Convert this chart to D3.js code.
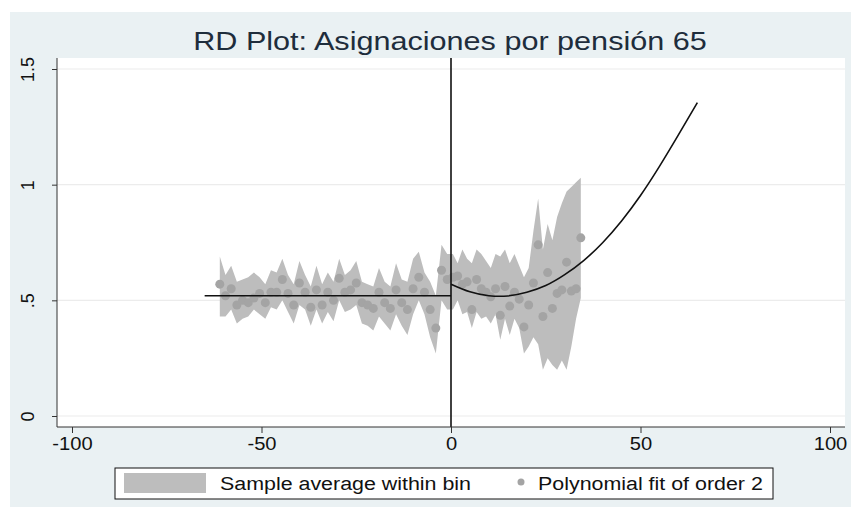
<!DOCTYPE html>
<html>
<head>
<meta charset="utf-8">
<script src="https://cdn.jsdelivr.net/npm/d3@7"></script>
<style>
  body { margin: 0; background: #fff; }
  text { font-family: "Liberation Sans", Arial, sans-serif; }
</style>
</head>
<body>
<div id="chart"></div>
<script>
// bins left of the cutoff
const leftX = [-61, -59.5, -58, -56.5, -55, -53.5, -52, -50.5, -49, -47.5, -46, -44.5, -43, -41.5,
  -40, -38.5, -37, -35.5, -34, -32.5, -31, -29.5, -28, -26.5, -25, -23.5, -22, -20.5, -19,
  -17.5, -16, -14.5, -13, -11.5, -10, -8.5, -7, -5.5, -4, -2.5, -1];
const leftMean = [0.57, 0.52, 0.55, 0.48, 0.50, 0.49, 0.51, 0.53, 0.49, 0.535, 0.535, 0.59, 0.53, 0.48,
  0.575, 0.535, 0.47, 0.545, 0.48, 0.535, 0.50, 0.595, 0.535, 0.545, 0.575, 0.49, 0.48, 0.465, 0.535,
  0.49, 0.465, 0.545, 0.49, 0.46, 0.55, 0.60, 0.535, 0.46, 0.38, 0.63, 0.59];
const leftHi = [0.69, 0.61, 0.65, 0.58, 0.59, 0.60, 0.62, 0.60, 0.57, 0.63, 0.62, 0.68, 0.61, 0.57,
  0.67, 0.61, 0.56, 0.65, 0.57, 0.62, 0.58, 0.68, 0.61, 0.63, 0.67, 0.58, 0.57, 0.56, 0.64,
  0.58, 0.56, 0.66, 0.59, 0.58, 0.68, 0.71, 0.62, 0.58, 0.52, 0.74, 0.70];
const leftLo = [0.43, 0.43, 0.46, 0.40, 0.42, 0.43, 0.46, 0.44, 0.42, 0.47, 0.46, 0.50, 0.45, 0.40,
  0.48, 0.46, 0.39, 0.46, 0.40, 0.45, 0.41, 0.50, 0.45, 0.46, 0.48, 0.40, 0.39, 0.37, 0.43,
  0.40, 0.37, 0.44, 0.39, 0.35, 0.44, 0.50, 0.44, 0.34, 0.27, 0.50, 0.46];

// bins right of the cutoff
const rightX = [0.5, 1.75, 3, 4.25, 5.5, 6.75, 8, 9.25, 10.5, 11.75, 13, 14.25, 15.5, 16.75,
  18, 19.25, 20.5, 21.75, 23, 24.25, 25.5, 26.75, 28, 29.25, 30.5, 31.75, 33, 34.25];
const rightMean = [0.60, 0.605, 0.57, 0.58, 0.46, 0.59, 0.55, 0.535, 0.515, 0.55, 0.435, 0.56, 0.475, 0.535,
  0.505, 0.385, 0.48, 0.575, 0.74, 0.43, 0.62, 0.465, 0.53, 0.545, 0.665, 0.54, 0.55, 0.77];
const rightHi = [0.70, 0.66, 0.72, 0.68, 0.66, 0.72, 0.70, 0.67, 0.64, 0.70, 0.69, 0.72, 0.66, 0.70,
  0.65, 0.60, 0.64, 0.80, 0.94, 0.72, 0.83, 0.76, 0.86, 0.92, 0.97, 0.99, 1.01, 1.03];
const rightLo = [0.46, 0.50, 0.44, 0.45, 0.38, 0.45, 0.42, 0.43, 0.40, 0.44, 0.33, 0.42, 0.35, 0.42,
  0.38, 0.27, 0.30, 0.34, 0.31, 0.20, 0.25, 0.22, 0.20, 0.24, 0.20, 0.30, 0.42, 0.51];

// fitted polynomials
const fitLeftX = [-65, 0];
const fitLeftY = [0.52, 0.52];
const fitRightX = [0, 5, 10, 15, 20, 25, 30, 35, 40, 45, 50, 55, 60, 65];
const fitRightY = [0.57, 0.537, 0.52, 0.519, 0.535, 0.564, 0.611, 0.672, 0.749, 0.843, 0.953, 1.079, 1.215, 1.355];

const xTicks = [-100, -50, 0, 50, 100];
const yTicks = [0, 0.5, 1, 1.5];
const yTickLabels = ['0', '.5', '1', '1.5'];

const width = 851;
const height = 507;
const plot = { left: 57, right: 845, top: 58, bottom: 427 };

const svg = d3.select('#chart').append('svg')
  .attr('width', width)
  .attr('height', height);

svg.append('rect')
  .attr('x', 10).attr('y', 12)
  .attr('width', width - 10).attr('height', height - 12)
  .style('fill', '#eaf1f3');

svg.append('rect')
  .attr('x', plot.left).attr('y', plot.top)
  .attr('width', plot.right - plot.left).attr('height', plot.bottom - plot.top)
  .style('fill', '#ffffff');

const xScale = d3.scaleLinear().domain([-100, 100]).range([72, 830]);
const yScale = d3.scaleLinear().domain([0, 1.5]).range([416, 69]);

// gridlines
svg.append('g')
  .selectAll('line')
  .data(yTicks)
  .join('line')
  .attr('x1', plot.left).attr('x2', plot.right)
  .attr('y1', (d) => yScale(d)).attr('y2', (d) => yScale(d))
  .style('stroke', '#ececec')
  .style('stroke-width', 1.2);

const bins = leftX.map((x, i) => ({ x, m: leftMean[i], lo: leftLo[i], hi: leftHi[i] }))
  .concat(rightX.map((x, i) => ({ x, m: rightMean[i], lo: rightLo[i], hi: rightHi[i] })));

const area = d3.area()
  .x((d) => xScale(d.x))
  .y0((d) => yScale(d.lo))
  .y1((d) => yScale(d.hi));

svg.append('path')
  .datum(bins)
  .attr('d', area)
  .style('fill', '#bdbdbd')
  .style('stroke', 'none');

svg.append('g')
  .selectAll('circle')
  .data(bins)
  .join('circle')
  .attr('cx', (d) => xScale(d.x))
  .attr('cy', (d) => yScale(d.m))
  .attr('r', 4.5)
  .style('fill', '#a4a4a4');

const line = d3.line()
  .x((d) => xScale(d[0]))
  .y((d) => yScale(d[1]));

svg.append('path')
  .datum(fitLeftX.map((x, i) => [x, fitLeftY[i]]))
  .attr('d', line)
  .style('fill', 'none')
  .style('stroke', '#111')
  .style('stroke-width', 1.6);

svg.append('path')
  .datum(fitRightX.map((x, i) => [x, fitRightY[i]]))
  .attr('d', line.curve(d3.curveNatural))
  .style('fill', 'none')
  .style('stroke', '#111')
  .style('stroke-width', 1.6);

// cutoff line
svg.append('line')
  .attr('x1', xScale(0)).attr('x2', xScale(0))
  .attr('y1', plot.top).attr('y2', plot.bottom)
  .style('stroke', '#111')
  .style('stroke-width', 1.6);

// axes
const yAxis = d3.axisLeft(yScale)
  .tickValues(yTicks)
  .tickSize(5)
  .tickSizeOuter(0)
  .tickFormat((d, i) => yTickLabels[i]);

const yG = svg.append('g')
  .attr('transform', `translate(${plot.left},0)`)
  .call(yAxis);
yG.select('.domain').attr('d', `M0,${plot.top}V${plot.bottom}`).style('stroke', '#333');
yG.selectAll('.tick line').style('stroke', '#333');
yG.selectAll('.tick text')
  .attr('x', 0).attr('y', 0).attr('dy', 0)
  .attr('transform', 'translate(-23,0) rotate(-90)')
  .style('text-anchor', 'middle')
  .style('font-size', '18px')
  .style('fill', '#111');

const xAxis = d3.axisBottom(xScale)
  .tickValues(xTicks)
  .tickSize(6)
  .tickSizeOuter(0)
  .tickFormat((d) => String(d));

const xG = svg.append('g')
  .attr('transform', `translate(0,${plot.bottom})`)
  .call(xAxis);
xG.select('.domain').attr('d', `M${plot.left},0H${plot.right}`).style('stroke', '#333');
xG.selectAll('.tick line').style('stroke', '#333');
xG.selectAll('.tick text')
  .attr('y', 10)
  .attr('transform', 'scale(1.12,1)')
  .style('font-size', '18px')
  .style('fill', '#111');

// title
svg.append('text')
  .attr('transform', 'translate(450,50) scale(1.2,1)')
  .style('text-anchor', 'middle')
  .style('font-size', '25.5px')
  .style('fill', '#1e2d3c')
  .text('RD Plot: Asignaciones por pensión 65');

// legend
const legend = svg.append('g');
legend.append('rect')
  .attr('x', 115).attr('y', 468)
  .attr('width', 658).attr('height', 31)
  .style('fill', '#fff')
  .style('stroke', '#111');
legend.append('rect')
  .attr('x', 124).attr('y', 473)
  .attr('width', 82).attr('height', 20)
  .style('fill', '#bdbdbd');
legend.append('text')
  .attr('transform', 'translate(220,490) scale(1.19,1)')
  .style('font-size', '18px')
  .style('fill', '#111')
  .text('Sample average within bin');
legend.append('circle')
  .attr('cx', 521).attr('cy', 482)
  .attr('r', 3.5)
  .style('fill', '#a4a4a4');
legend.append('text')
  .attr('transform', 'translate(538,490) scale(1.19,1)')
  .style('font-size', '18px')
  .style('fill', '#111')
  .text('Polynomial fit of order 2');
</script>
</body>
</html>
